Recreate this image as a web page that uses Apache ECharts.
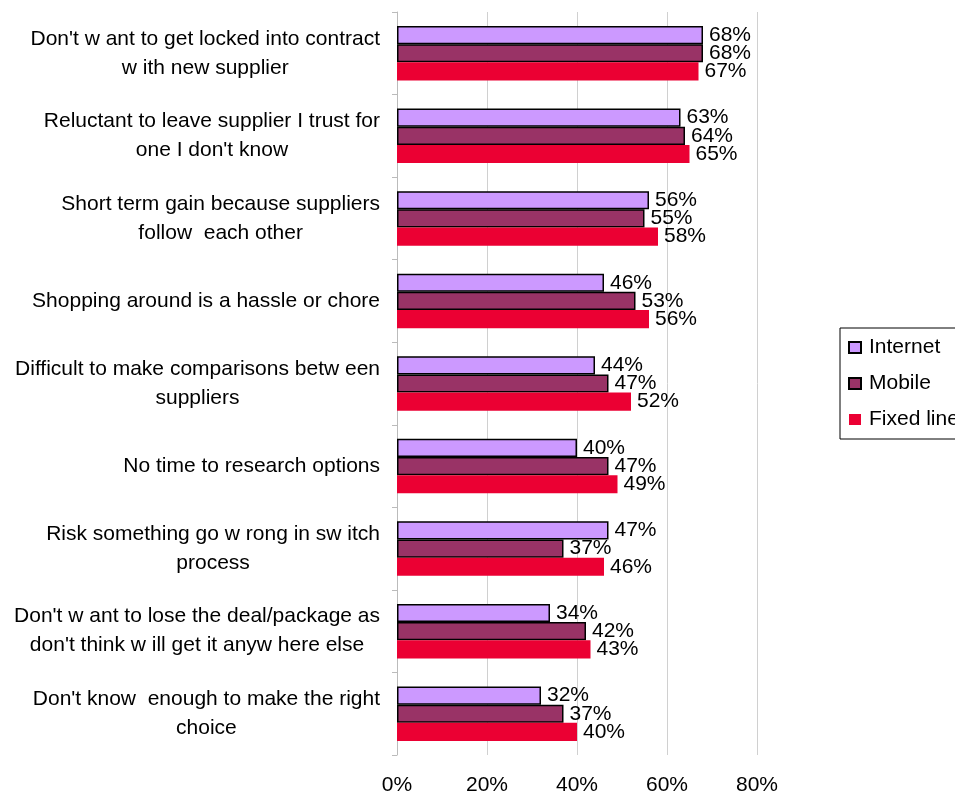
<!DOCTYPE html>
<html><head><meta charset="utf-8">
<script src="https://cdn.jsdelivr.net/npm/echarts@6/dist/echarts.min.js"></script>
<style>html,body{margin:0;padding:0;background:#fff}#c{width:955px;height:796px}</style>
</head><body><div id="c"></div>
<script>
var categories = [
  "Don't w ant to get locked into contract\nw ith new supplier",
  "Reluctant to leave supplier I trust for\none I don't know",
  "Short term gain because suppliers\nfollow  each other",
  "Shopping around is a hassle or chore",
  "Difficult to make comparisons betw een\nsuppliers",
  "No time to research options",
  "Risk something go w rong in sw itch\nprocess",
  "Don't w ant to lose the deal/package as\ndon't think w ill get it anyw here else",
  "Don't know  enough to make the right\nchoice"
];
var seriesNames = ["Internet", "Mobile", "Fixed line"];
var internet = [68, 63, 56, 46, 44, 40, 47, 34, 32];
var mobile   = [68, 64, 55, 53, 47, 47, 37, 42, 37];
var fixed    = [67, 65, 58, 56, 52, 49, 46, 43, 40];
var xTicks = [0, 20, 40, 60, 80];

var FONT = "'Liberation Sans', Arial, sans-serif";
var FS = 21;
var chart = echarts.init(document.getElementById('c'), null, {renderer: 'canvas'});
function mk(name, data, color, border) {
  return {
    name: name, type: 'bar', data: data,
    barGap: '0%', barCategoryGap: '34%',
    itemStyle: {color: color, borderColor: border ? '#000' : color, borderWidth: border ? 1.5 : 0},
    label: {show: true, position: 'right', distance: 6, formatter: '{c}%',
      color: '#000', fontSize: FS, fontFamily: FONT},
    animation: false
  };
}
chart.setOption({
  animation: false,
  textStyle: {fontFamily: FONT},
  grid: {left: 397, right: 198, top: 12, bottom: 41, containLabel: false},
  legend: {
    orient: 'vertical', left: 840, top: 328,
    data: seriesNames,
    itemWidth: 12, itemHeight: 11, itemGap: 15,
    borderColor: '#000', borderWidth: 1, padding: [9, 20, 9, 8],
    textStyle: {fontSize: FS, color: '#000', fontFamily: FONT, padding: [0, 0, 0, 3]},
    icon: 'rect'
  },
  xAxis: {
    type: 'value', min: 0, max: 80, interval: 20,
    axisLabel: {formatter: function (v) { return xTicks.indexOf(v) >= 0 ? v + '%' : ''; },
      fontSize: FS, color: '#000', margin: 20, fontFamily: FONT},
    axisLine: {show: false}, axisTick: {show: false},
    splitLine: {show: true, lineStyle: {color: '#d0d0d0', width: 1}}
  },
  yAxis: {
    type: 'category', data: categories, inverse: true,
    axisLine: {show: true, lineStyle: {color: '#bbbbbb'}},
    axisTick: {show: true, length: 5, lineStyle: {color: '#bbbbbb'}},
    axisLabel: {
      margin: 17, fontSize: FS, color: '#000', fontFamily: FONT, lineHeight: 29,
      formatter: function (v) { return v.split('\n').map(function (l) { return '{c|' + l + '}'; }).join('\n'); },
      rich: {c: {align: 'center', fontSize: FS, lineHeight: 29, color: '#000', fontFamily: FONT}}
    }
  },
  series: [
    mk(seriesNames[0], internet, '#CC99FF', true),
    mk(seriesNames[1], mobile, '#993366', true),
    mk(seriesNames[2], fixed, '#EB0033', false)
  ]
});
</script></body></html>
